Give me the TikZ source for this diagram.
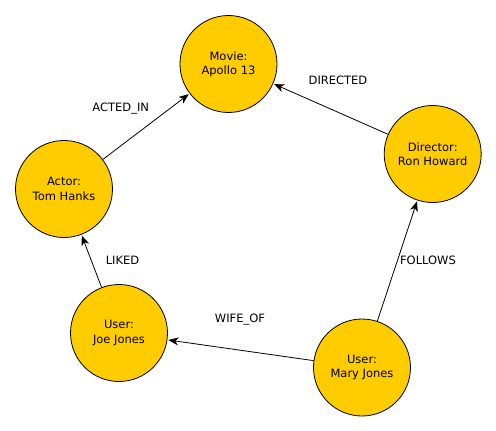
\documentclass[tikz,border=0pt]{standalone}
\usepackage{fontspec}
\setmainfont{DejaVu Sans}
\usetikzlibrary{arrows.meta}
\definecolor{nodefill}{RGB}{255,204,0}
\begin{document}
\begin{tikzpicture}[x=1pt,y=-1pt,
  entity/.style={circle, draw=black, line width=0.8pt, fill=nodefill,
    minimum size=97pt, inner sep=0pt, align=center,
    font=\fontsize{11.5}{14.3}\selectfont},
  rel/.style={draw=black, line width=0.8pt,
    -{Stealth[length=10pt,width=8pt,inset=3pt]}, shorten >=1pt},
  lbl/.style={font=\fontsize{11.5}{14}\selectfont, inner sep=0pt}]
\useasboundingbox (0,0) rectangle (496,431);
\node[entity] (movie) at (228.5,64) {Movie:\\Apollo 13};
\node[entity] (actor) at (64,189) {Actor:\\Tom Hanks};
\node[entity] (director) at (432.7,154) {Director:\\Ron Howard};
\node[entity] (joe) at (119,333) {User:\\Joe Jones};
\node[entity] (mary) at (362,367.5) {User:\\Mary Jones};
\draw[rel] (actor) -- (movie);
\draw[rel] (director) -- (movie);
\draw[rel] (joe) -- (actor);
\draw[rel] (mary) -- (joe);
\draw[rel] (mary) -- (director);
\node[lbl] (l1) at (120.7,108.7) {ACTED\_IN};
\node[lbl] (l2) at (338,80) {DIRECTED};
\node[lbl] (l3) at (122.5,260.7) {LIKED};
\node[lbl] (l4) at (428,260.7) {FOLLOWS};
\node[lbl] (l5) at (240,319.3) {WIFE\_OF};
\end{tikzpicture}
\end{document}
